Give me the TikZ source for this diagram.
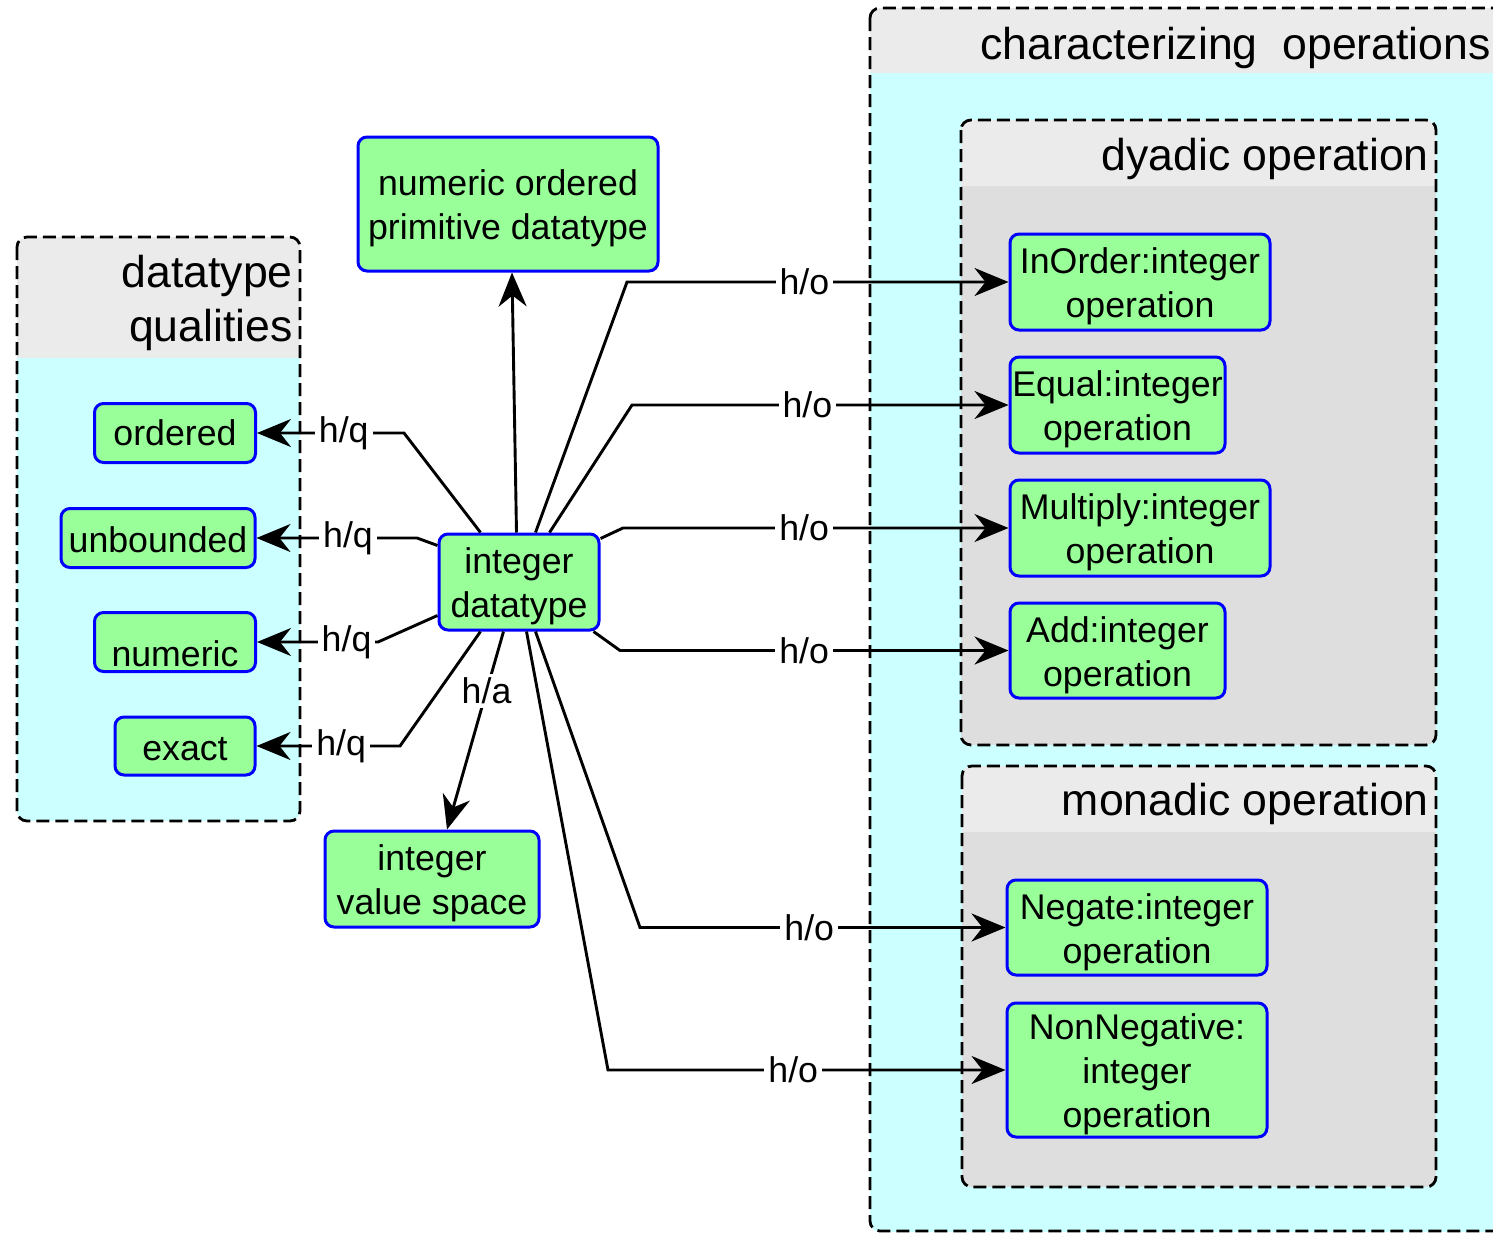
\documentclass[tikz,border=0pt]{standalone}
\usepackage{fontspec}
\setmainfont{Liberation Sans}
\usetikzlibrary{arrows.meta,calc}

\definecolor{nodegreen}{HTML}{99FF99}
\definecolor{nodeblue}{HTML}{0000FF}
\definecolor{groupcyan}{HTML}{CCFFFF}
\definecolor{headgray}{HTML}{EBEBEB}
\definecolor{bodygray}{HTML}{DEDEDE}

% filled group: #1 x1, #2 y1, #3 x2, #4 y2, #5 bottom of title band, #6 body colour
\newcommand\drawgroup[6]{%
  \begin{scope}
    \clip[rounded corners=10pt] (#1,#2) rectangle (#3,#4);
    \fill[#6] (#1,#2) rectangle (#3,#4);
    \fill[headgray] (#1,#2) rectangle (#3,#5);
  \end{scope}%
}
% stacked lines of a concept box, set a little below the box centre
\newcommand\boxtext[2][-5pt]{%
  \raisebox{#1}[\height][\depth]{\begin{tabular}{@{}c@{}}#2\end{tabular}}}
% single line of a concept box, shifted down by the given amount
\newcommand\lowtext[2]{\raisebox{#1}[\height][\depth]{#2}}

\begin{document}
\begin{tikzpicture}[x=1pt,y=-1pt,
  every node/.style={font=\fontsize{35.7}{44}\selectfont},
  item/.style={draw=nodeblue, fill=nodegreen, line width=3pt, rounded corners=9pt,
    align=center, inner sep=0pt},
  grouptitle/.style={font=\fontsize{44.6}{54}\selectfont, inner sep=0pt},
  frame/.style={draw=black, line width=2.8pt, dash pattern=on 13pt off 6pt, rounded corners=10pt},
  link/.style={line width=2.9pt, draw=black},
  tolink/.style={link, -{Stealth[length=34pt,width=28pt,inset=11pt]}},
  rel/.style={fill=white, inner sep=4pt},
]
\fill[white] (0,0) rectangle (1493,1234);
\useasboundingbox (0,0) rectangle (1493,1234);

% group backgrounds
\drawgroup{17}{237}{300}{821}{358}{groupcyan}
\drawgroup{870}{8}{1505}{1232}{73}{groupcyan}
\drawgroup{961}{120}{1436}{745}{186}{bodygray}
\drawgroup{962}{766}{1436}{1187}{832}{bodygray}

% group frames
\draw[frame] (17,237) rectangle (300,821);
\draw[frame] (870,8) rectangle (1505,1231);
\draw[frame] (961,120) rectangle (1436,745);
\draw[frame] (962,766) rectangle (1436,1187);

% group titles
\node[grouptitle, anchor=base east] (charT) at (1491,59) {characterizing\ \ operations};
\node[grouptitle, anchor=base east] (dyadT) at (1429,170) {dyadic operation};
\node[grouptitle, anchor=base east] (monT) at (1429,815) {monadic operation};
\node[grouptitle, anchor=base east] (dqA) at (293,287) {datatype};
\node[grouptitle, anchor=base east] (dqB) at (293,341) {qualities};

% concepts
\node[item, minimum width=300pt, minimum height=134pt] (nopd) at (508,204) {\boxtext{numeric ordered\\primitive datatype}};
\node[item, minimum width=161pt, minimum height=59pt] (ordered) at (175,433) {ordered};
\node[item, minimum width=194pt, minimum height=59pt] (unbounded) at (158,538) {\lowtext{-2pt}{unbounded}};
\node[item, minimum width=161pt, minimum height=59pt] (numeric) at (175,642) {\lowtext{-12pt}{numeric}};
\node[item, minimum width=140pt, minimum height=58pt] (exact) at (185,746) {\lowtext{-3pt}{exact}};
\node[item, minimum width=160pt, minimum height=96pt] (int) at (519,582) {\boxtext{integer\\datatype}};
\node[item, minimum width=214pt, minimum height=96pt] (ivs) at (432,879) {\boxtext{integer\\value space}};
\node[item, minimum width=260pt, minimum height=96pt] (inorder) at (1140,282) {\boxtext{InOrder:integer\\operation}};
\node[item, minimum width=215pt, minimum height=96pt] (equal) at (1117.5,405) {\boxtext{Equal:integer\\operation}};
\node[item, minimum width=260pt, minimum height=96pt] (multiply) at (1140,528) {\boxtext{Multiply:integer\\operation}};
\node[item, minimum width=215pt, minimum height=95pt] (add) at (1117.5,650.5) {\boxtext{Add:integer\\operation}};
\node[item, minimum width=260pt, minimum height=95pt] (negate) at (1137,927.5) {\boxtext{Negate:integer\\operation}};
\node[item, minimum width=260pt, minimum height=134pt] (nonneg) at (1137,1070) {\boxtext{NonNegative:\\integer\\operation}};

% bend points
\coordinate (bOrd) at (404,433);
\coordinate (bUnb) at (417,538);
\coordinate (bNum) at (378,642);
\coordinate (bExa) at (400,746);
\coordinate (bInO) at (627,282);
\coordinate (bEqu) at (632,405);
\coordinate (bMul) at (623,528);
\coordinate (bAdd) at (620,650.5);
\coordinate (bNeg) at (640,927.5);
\coordinate (bNon) at (608,1070);

% supertype
\draw[tolink] ($(int.north west)+(79,0)$) -- ($(nopd.south)+(4,0)$);

% qualities
\draw[tolink] ($(int.north west)+(43,0)$) -- (bOrd) -- node[rel, pos=0.41] (lq1) {h/q} (ordered.east);
\draw[tolink] ($(int.north west)+(0,13)$) -- (bUnb) -- node[rel, pos=0.43] (lq2) {h/q} (unbounded.east);
\draw[tolink] ($(int.north west)+(0,83)$) -- (bNum) -- node[rel, pos=0.26] (lq3) {h/q} (numeric.east);
\draw[tolink] ($(int.south west)+(43,0)$) -- (bExa) -- node[rel, pos=0.41] (lq4) {h/q} (exact.east);

% value space
\draw[tolink] ($(int.south west)+(66,0)$) -- node[rel, pos=0.3] (la) {h/a} ($(ivs.north)+(15,0)$);

% operations
\draw[tolink] ($(int.north west)+(98,0)$) -- (bInO) -- node[rel, pos=0.465] (lo1) {h/o} (inorder.west);
\draw[tolink] ($(int.north west)+(112,0)$) -- (bEqu) -- node[rel, pos=0.466] (lo2) {h/o} (equal.west);
\draw[tolink] ($(int.north east)+(0,6)$) -- (bMul) -- node[rel, pos=0.47] (lo3) {h/o} (multiply.west);
\draw[tolink] ($(int.south east)+(-7,0)$) -- (bAdd) -- node[rel, pos=0.474] (lo4) {h/o} (add.west);
\draw[tolink] ($(int.south west)+(98,0)$) -- (bNeg) -- node[rel, pos=0.463] (lo5) {h/o} (negate.west);
\draw[tolink] ($(int.south west)+(89,0)$) -- (bNon) -- node[rel, pos=0.466] (lo6) {h/o} (nonneg.west);
\end{tikzpicture}
\end{document}
